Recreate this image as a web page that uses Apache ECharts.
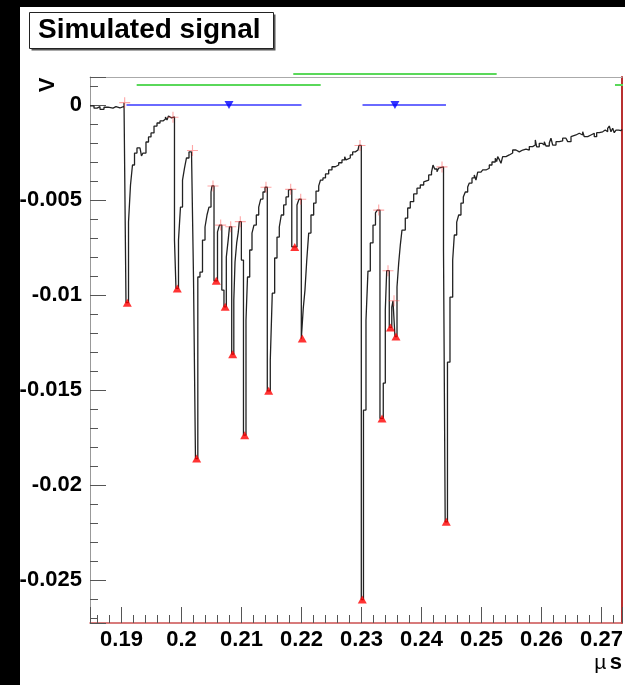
<!DOCTYPE html>
<html>
<head>
<meta charset="utf-8">
<script src="https://cdn.jsdelivr.net/npm/echarts@6/dist/echarts.min.js"></script>
<style>
  html, body { margin: 0; padding: 0; background: #000; }
  #pad { position: absolute; left: 20px; top: 7px; width: 605px; height: 678px; background: #fff; }
  #signal { width: 605px; height: 678px; }
</style>
</head>
<body>
<div id="pad"><div id="signal"></div></div>
<script>
// histogram bins: left edge time (us) and content (V)
const sampleTimes = [
  0.18475, 0.18542, 0.18592, 0.18642, 0.18708, 0.18775, 0.18858, 0.18908, 0.18975, 0.19042,
  0.19075, 0.19117, 0.1915, 0.19183, 0.19217, 0.19258, 0.19308, 0.19333, 0.19358, 0.19408,
  0.1945, 0.19492, 0.19542, 0.19592, 0.19642, 0.19692, 0.19733, 0.19758, 0.19783, 0.19808,
  0.19833, 0.19883, 0.19908, 0.1995, 0.19983, 0.20017, 0.2005, 0.20083, 0.20125, 0.20167,
  0.202, 0.20233, 0.20272, 0.20308, 0.2035, 0.20392, 0.20425, 0.20458, 0.20492, 0.20508,
  0.20542, 0.206, 0.20633, 0.20672, 0.20708, 0.20747, 0.20778, 0.208, 0.20837, 0.20872,
  0.20892, 0.2092, 0.20947, 0.20963, 0.20998, 0.21033, 0.21075, 0.211, 0.21137, 0.21175,
  0.21208, 0.21247, 0.21287, 0.2132, 0.21358, 0.21392, 0.2143, 0.2148, 0.21513, 0.21553,
  0.21592, 0.2163, 0.21663, 0.21703, 0.21742, 0.21783, 0.21808, 0.21838, 0.21925, 0.21958,
  0.21997, 0.2203, 0.22058, 0.22088, 0.2212, 0.22158, 0.22203, 0.22242, 0.22287, 0.22317,
  0.22358, 0.224, 0.22453, 0.22508, 0.22563, 0.2262, 0.22675, 0.2272, 0.22742, 0.22775,
  0.22813, 0.22853, 0.22897, 0.22942, 0.22958, 0.22997, 0.23033, 0.23075, 0.23108, 0.23147,
  0.23192, 0.23233, 0.23263, 0.23308, 0.23363, 0.23397, 0.2342, 0.23463, 0.23505, 0.23525,
  0.23558, 0.23592, 0.2362, 0.23647, 0.23675, 0.2373, 0.2377, 0.23813, 0.2387, 0.23925,
  0.2398, 0.24037, 0.24063, 0.2412, 0.24167, 0.24192, 0.2422, 0.24258, 0.24287, 0.24317,
  0.24367, 0.24395, 0.24433, 0.24475, 0.2452, 0.24547, 0.24587, 0.2462, 0.24658, 0.24697,
  0.2473, 0.2477, 0.24797, 0.24842, 0.2488, 0.24908, 0.24937, 0.24992, 0.2502, 0.25075,
  0.2513, 0.25175, 0.2523, 0.25253, 0.2527, 0.253, 0.25325, 0.25353, 0.25408, 0.25463,
  0.2552, 0.25575, 0.2563, 0.25687, 0.25742, 0.25797, 0.25853, 0.25897, 0.2592, 0.25963,
  0.26008, 0.26047, 0.26075, 0.2613, 0.26158, 0.26187, 0.26242, 0.26297, 0.26353, 0.26408,
  0.26437, 0.26492, 0.2652, 0.26575, 0.2663, 0.26687, 0.26713, 0.2677, 0.26825, 0.2688,
  0.2692, 0.26963, 0.2702, 0.27063, 0.27103, 0.2713, 0.27158, 0.27187, 0.27213, 0.27242,
  0.27287, 0.27325, 0.27342
];
const sampleVolts = [
  -0.00005, -0.00017, -0.00009, -0.00023, -0.00012, -0.00017, -0.00009, -0.00016, -0.00008, 0.00011,
  -0.0104, -0.00616, -0.00421, -0.00316, -0.00253, -0.00226, -0.00221, -0.00268, -0.00253, -0.00195,
  -0.00168, -0.00147, -0.00111, -0.00095, -0.00084, -0.00074, -0.00063, -0.00079, -0.00058, -0.00068,
  -0.00063, -0.00711, -0.00965, -0.00711, -0.00537, -0.00395, -0.00332, -0.00279, -0.00247, -0.0024,
  -0.00905, -0.0186, -0.00905, -0.00879, -0.00711, -0.00642, -0.00579, -0.00537, -0.00458, -0.00426,
  -0.00925, -0.00668, -0.00632, -0.00974, -0.01062, -0.008, -0.00711, -0.00641, -0.01311, -0.01026,
  -0.00826, -0.00726, -0.00668, -0.00614, -0.00816, -0.01737, -0.01132, -0.00905, -0.00763, -0.00674,
  -0.00632, -0.00579, -0.00537, -0.00495, -0.00458, -0.00433, -0.01504, -0.01342, -0.0099, -0.00805,
  -0.00695, -0.00642, -0.00579, -0.00526, -0.00484, -0.00447, -0.00444, -0.00747, -0.00526, -0.00496,
  -0.01229, -0.01068, -0.00974, -0.00816, -0.00674, -0.00579, -0.00516, -0.00453, -0.00426, -0.00395,
  -0.00384, -0.00363, -0.00342, -0.00325, -0.00316, -0.00304, -0.00289, -0.00272, -0.00289, -0.00279,
  -0.00263, -0.00247, -0.00237, -0.00228, -0.00213, -0.02602, -0.01605, -0.01132, -0.00874, -0.00726,
  -0.00632, -0.00568, -0.00553, -0.01649, -0.01463, -0.01079, -0.00872, -0.0117, -0.01063, -0.0103,
  -0.01218, -0.00958, -0.00832, -0.00737, -0.00658, -0.00595, -0.00542, -0.00509, -0.00468, -0.00438,
  -0.00421, -0.00405, -0.00395, -0.00368, -0.00353, -0.00316, -0.00337, -0.00351, -0.00332, -0.00326,
  -0.00763, -0.02193, -0.01353, -0.01011, -0.00816, -0.00684, -0.00616, -0.00579, -0.00516, -0.00484,
  -0.00458, -0.00432, -0.00411, -0.00384, -0.00368, -0.00395, -0.00353, -0.00358, -0.00342, -0.00333,
  -0.00316, -0.003, -0.00281, -0.00298, -0.00272, -0.00289, -0.00307, -0.00272, -0.00263, -0.00253,
  -0.00237, -0.00247, -0.00237, -0.00232, -0.00237, -0.00219, -0.00211, -0.00184, -0.00221, -0.00202,
  -0.00211, -0.00193, -0.00216, -0.002, -0.00175, -0.00211, -0.00193, -0.00189, -0.00175, -0.0017,
  -0.00193, -0.00167, -0.00158, -0.00149, -0.00158, -0.00141, -0.00167, -0.00158, -0.00149, -0.00167,
  -0.00146, -0.00141, -0.00132, -0.00141, -0.00123, -0.00111, -0.00141, -0.00123, -0.00146, -0.00132,
  -0.00135, -0.00128, -0.00128
];

// found maxima (+) and minima (triangles)
const peakTimes = [0.19053, 0.19858, 0.20183, 0.20525, 0.20653, 0.2082, 0.2098, 0.21408, 0.2182, 0.21987, 0.22975, 0.23287, 0.23442, 0.23542, 0.24342];
const peakVolts = [0.00012, -0.00065, -0.0024, -0.00426, -0.00632, -0.00641, -0.00614, -0.00433, -0.00444, -0.00496, -0.00213, -0.00553, -0.00872, -0.0103, -0.00326];
const valleyTimes = [0.19097, 0.1993, 0.20253, 0.2058, 0.20728, 0.20853, 0.21053, 0.21453, 0.21888, 0.22013, 0.23013, 0.23342, 0.23483, 0.23575, 0.24413];
const valleyVolts = [-0.0104, -0.00965, -0.0186, -0.00925, -0.01062, -0.01311, -0.01737, -0.01504, -0.00747, -0.01229, -0.02602, -0.01649, -0.0117, -0.01218, -0.02193];

// clusters (blue) and windows (green)
const clusterStarts = [0.19083, 0.23017];
const clusterEnds = [0.22, 0.24408];
const clusterCentres = [0.20792, 0.23558];
const clusterLevels = [0, 0];
const windowStarts = [0.19253, 0.21863, 0.27225];
const windowEnds = [0.2232, 0.25253, 0.2775];
const windowLevels = [0.00105, 0.00163, 0.00105];

const xMin = 0.18475, xMax = 0.27342;
const yMin = -0.02725, yMax = 0.00147;

const FONT = "'Liberation Sans', Arial, Helvetica, sans-serif";

function onStep(v, step) {
  return Math.abs(v / step - Math.round(v / step)) < 1e-6;
}

let chart = echarts.init(document.getElementById("signal"));

let series = [];
series.push({
  name: "signal",
  type: "line",
  step: "end",
  showSymbol: false,
  symbol: "none",
  lineStyle: { color: "#222", width: 1.3 },
  data: sampleTimes.map((t, i) => [t, sampleVolts[i]]),
  z: 2,
});
windowStarts.forEach((s, i) => {
  series.push({
    type: "line",
    symbol: "none",
    clip: false,
    lineStyle: { color: "#5ad85a", width: 2 },
    data: [[s, windowLevels[i]], [windowEnds[i], windowLevels[i]]],
    z: 3,
  });
});
clusterStarts.forEach((s, i) => {
  series.push({
    type: "line",
    symbol: "none",
    lineStyle: { color: "#3838ff", width: 1.5 },
    data: [[s, clusterLevels[i]], [clusterEnds[i], clusterLevels[i]]],
    z: 3,
  });
});
series.push({
  type: "scatter",
  symbol: "triangle",
  symbolRotate: 180,
  symbolSize: [9, 8],
  itemStyle: { color: "#0000ff" },
  data: clusterCentres.map((t, i) => [t, clusterLevels[i]]),
  z: 4,
});
series.push({
  type: "scatter",
  symbol: "path://M9,0h2v9h9v2h-9v9h-2v-9h-9v-2h9z",
  symbolSize: 11,
  itemStyle: { color: "rgba(255,70,70,0.6)" },
  data: peakTimes.map((t, i) => [t, peakVolts[i]]),
  z: 4,
});
series.push({
  type: "scatter",
  symbol: "triangle",
  symbolSize: [9, 8],
  itemStyle: { color: "#ff0000" },
  data: valleyTimes.map((t, i) => [t, valleyVolts[i]]),
  z: 4,
});

chart.setOption({
  animation: false,
  grid: { left: 70, top: 70, width: 532, height: 546, outerBoundsMode: "none", containLabel: false },
  xAxis: [
    {
      type: "value",
      min: xMin,
      max: xMax,
      splitNumber: 9,
      position: "bottom",
      axisLine: { onZero: false, lineStyle: { color: "#cc5050", width: 1.5 } },
      axisTick: { inside: true, length: 16, lineStyle: { color: "#555" } },
      minorTick: { show: true, splitNumber: 5, length: 8, lineStyle: { color: "#555" } },
      splitLine: { show: false },
      axisLabel: {
        margin: 6,
        color: "#000",
        fontSize: 22,
        fontWeight: "bold",
        fontFamily: FONT,
        formatter: (v) => (onStep(v, 0.01) ? String(+v.toFixed(2)) : ""),
      },
    },
    {
      type: "value",
      min: xMin,
      max: xMax,
      position: "top",
      axisLine: { onZero: false, lineStyle: { color: "#aaa", width: 1 } },
      axisTick: { show: false },
      axisLabel: { show: false },
      splitLine: { show: false },
    },
  ],
  yAxis: [
    {
      type: "value",
      min: yMin,
      max: yMax,
      splitNumber: 5,
      position: "left",
      axisLine: { show: true, onZero: false, lineStyle: { color: "#999", width: 1 } },
      axisTick: { inside: true, length: 16, lineStyle: { color: "#555" } },
      minorTick: { show: true, splitNumber: 5, length: 8, lineStyle: { color: "#555" } },
      splitLine: { show: false },
      axisLabel: {
        margin: 8,
        color: "#000",
        fontSize: 22,
        fontWeight: "bold",
        fontFamily: FONT,
        formatter: (v) => (onStep(v, 0.005) ? String(+v.toFixed(3)) : ""),
      },
    },
    {
      type: "value",
      min: yMin,
      max: yMax,
      position: "right",
      axisLine: { show: true, onZero: false, lineStyle: { color: "#b83030", width: 2 } },
      axisTick: { show: false },
      axisLabel: { show: false },
      splitLine: { show: false },
    },
  ],
  graphic: {
    elements: [
      {
        type: "rect",
        shape: { x: 11.5, y: 7.5, width: 244, height: 36 },
        style: { fill: "#555" },
        z: 100,
      },
      {
        type: "rect",
        shape: { x: 9.5, y: 5.5, width: 244, height: 36 },
        style: { fill: "#fff", stroke: "#222", lineWidth: 1 },
        z: 101,
      },
      {
        type: "text",
        x: 18,
        y: 23,
        style: {
          text: "Simulated signal",
          font: "bold 28px " + FONT,
          fill: "#000",
          align: "left",
          verticalAlign: "middle",
        },
        z: 102,
      },
      {
        type: "text",
        x: 27.5,
        y: 78,
        rotation: Math.PI / 2,
        style: {
          text: "V",
          font: "bold 22px " + FONT,
          fill: "#000",
          align: "center",
          verticalAlign: "middle",
        },
        z: 102,
      },
      {
        type: "text",
        x: 602,
        y: 656,
        style: {
          text: "{a|\u00b5} {b|s}",
          align: "right",
          verticalAlign: "middle",
          rich: {
            a: { font: "21px " + FONT, fill: "#000" },
            b: { font: "bold 22px " + FONT, fill: "#000" },
          },
        },
        z: 102,
      },
    ],
  },
  series: series,
});
</script>
</body>
</html>
